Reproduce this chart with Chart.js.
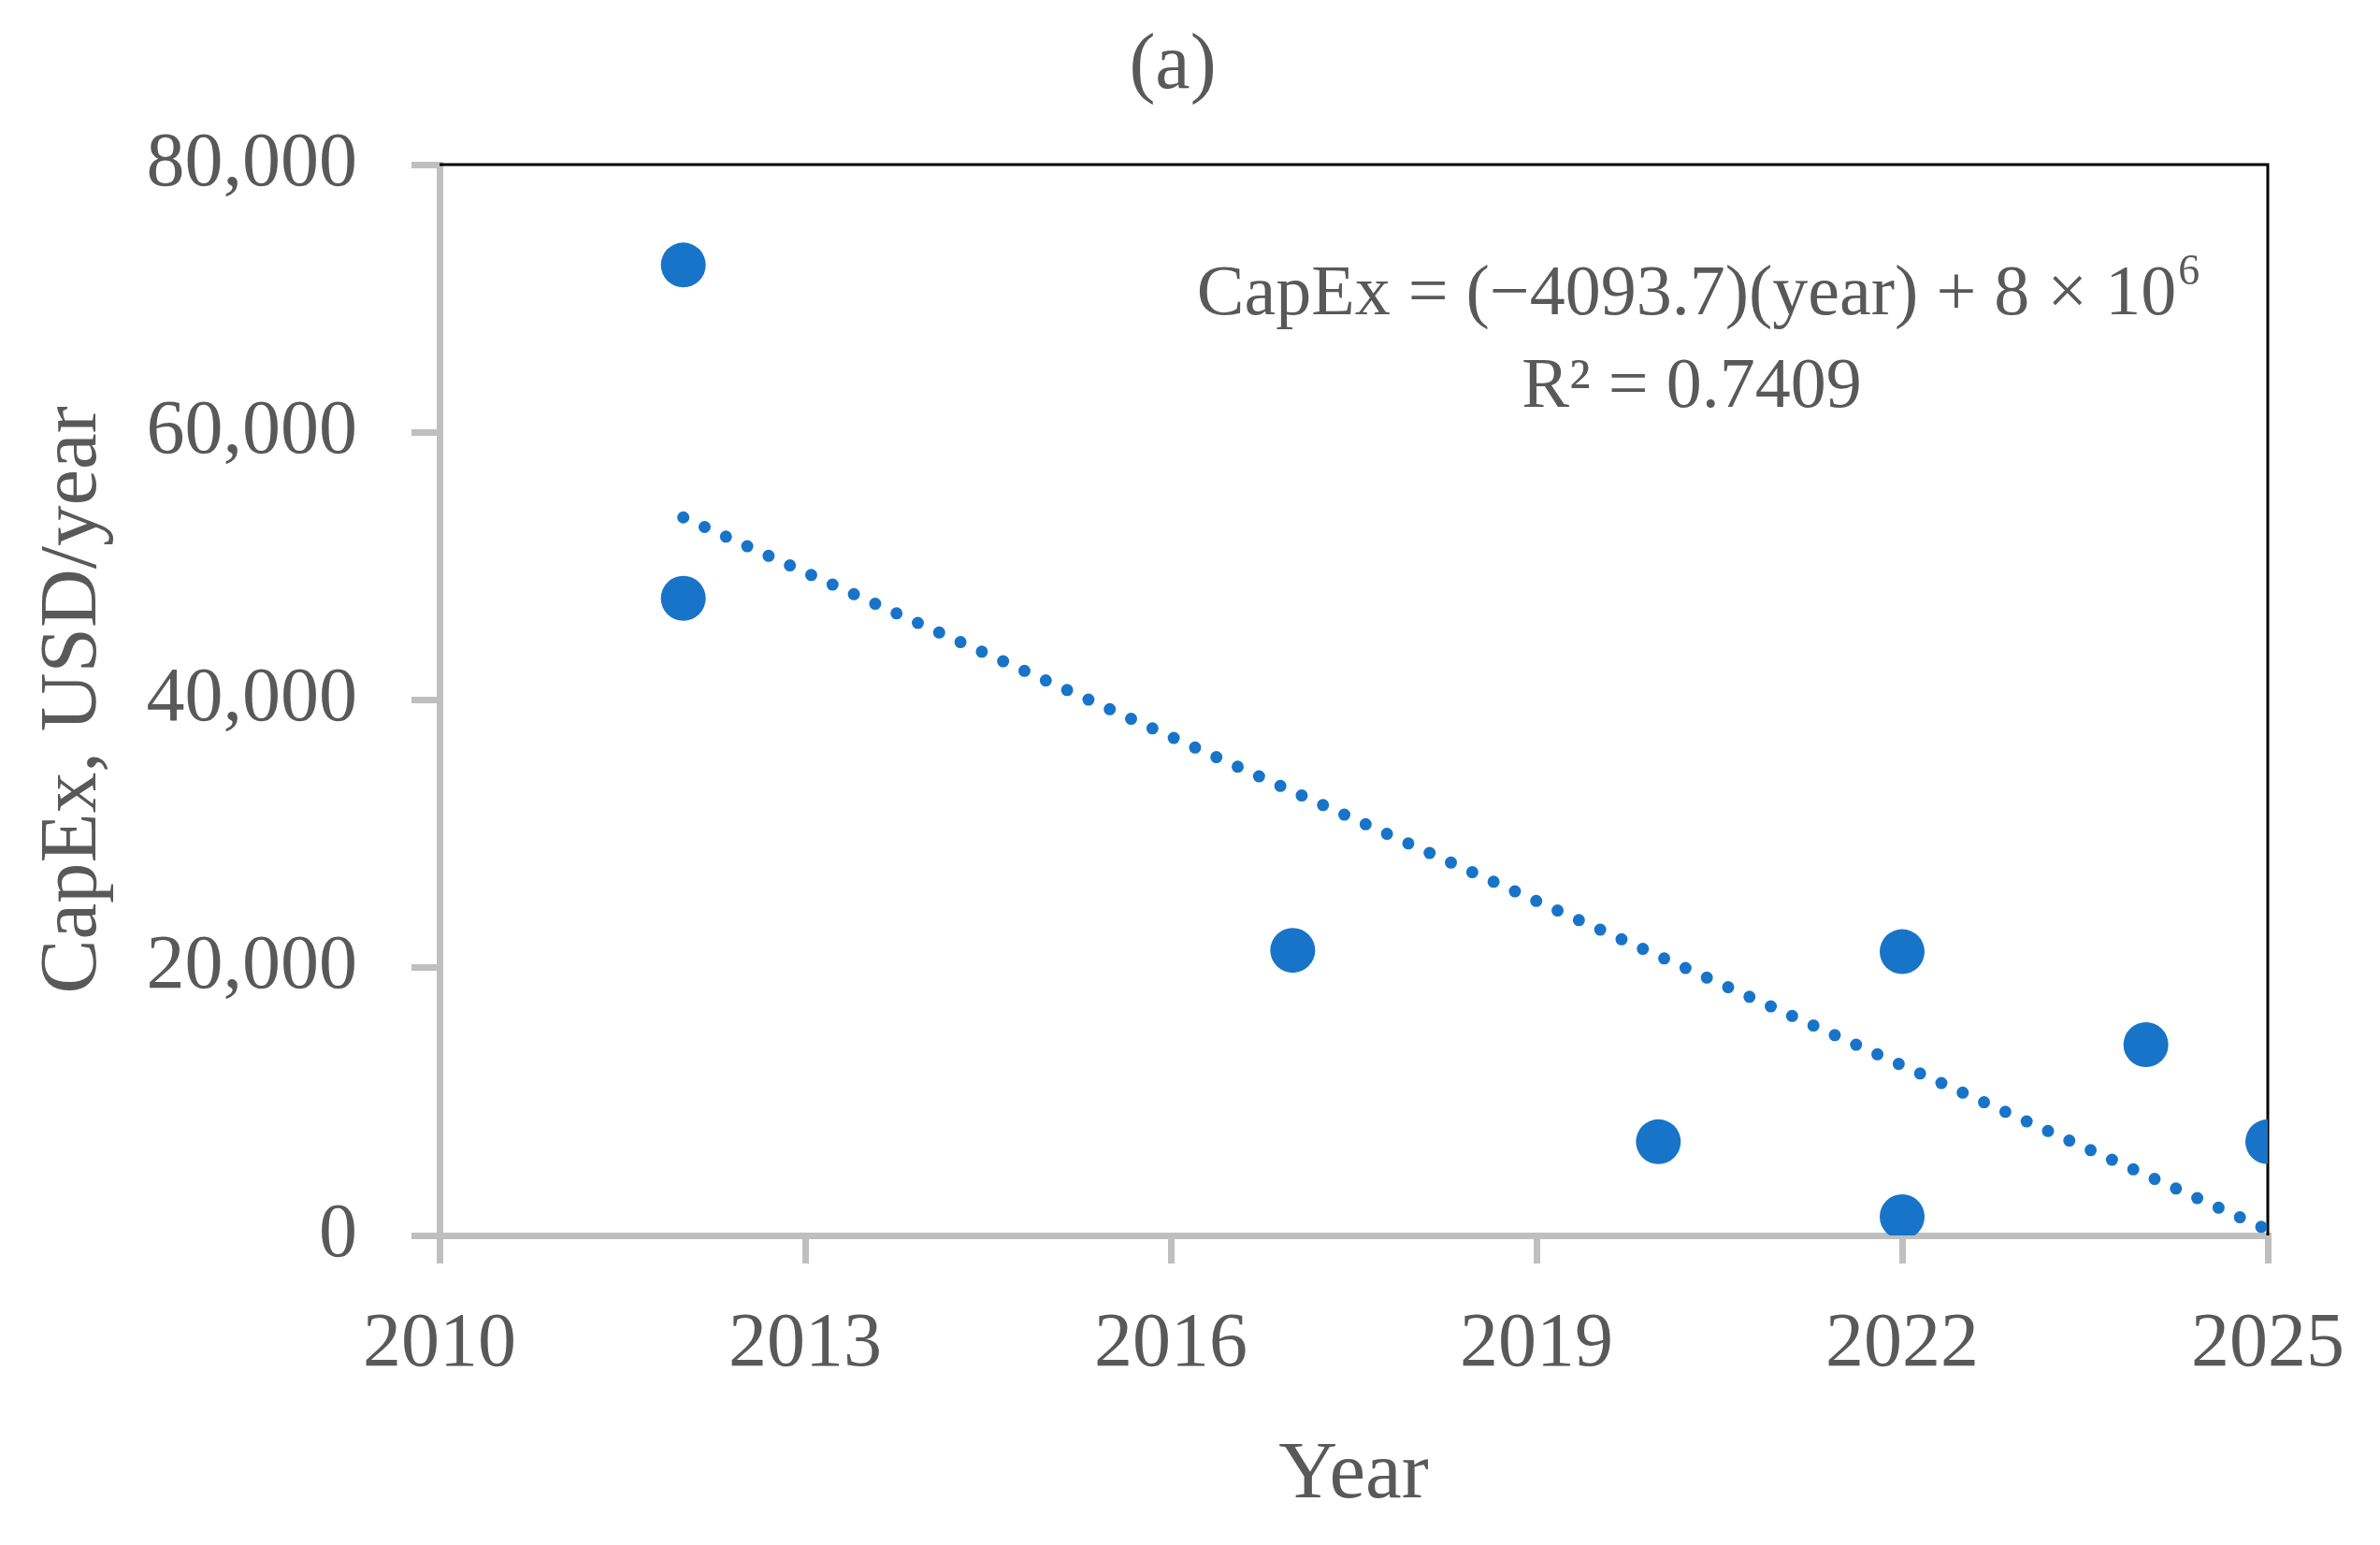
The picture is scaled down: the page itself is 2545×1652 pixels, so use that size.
<!DOCTYPE html>
<html>
<head>
<meta charset="utf-8">
<script src="https://cdn.jsdelivr.net/npm/chart.js@4.4.1/dist/chart.umd.min.js"></script>
<style>
  html, body { margin: 0; padding: 0; background: #fff; }
  #wrap { width: 2545px; height: 1652px; }
</style>
</head>
<body>
<div id="wrap"><canvas id="chart" width="2545" height="1652"></canvas></div>
<script>
// observed CapEx points (year, USD/year)
const years = [2012, 2012, 2017, 2020, 2022, 2022, 2024, 2025];
const capex = [72500, 47600, 21300, 7000, 21200, 1400, 14250, 7000];

// linear trendline ends as drawn
const trendYears = [2012, 2025];
const trendCapex = [53640, 420];

const xTicks = [2010, 2013, 2016, 2019, 2022, 2025];
const yTicks = [0, 20000, 40000, 60000, 80000];

const eqMain = 'CapEx = (\u22124093.7)(year) + 8 \u00d7 10';
const eqSup = '6';
const eqR2 = 'R\u00b2 = 0.7409';

const blue = '#1874C8';
const grey = '#BFBFBF';
const textGrey = '#595959';
const serif = '"Liberation Serif", "Times New Roman", serif';

const toXY = (xs, ys) => xs.map((x, i) => ({ x, y: ys[i] }));

const annotations = {
  id: 'annotations',
  beforeDatasetsDraw(chart) {
    const { ctx, chartArea } = chart;
    ctx.save();
    ctx.strokeStyle = '#000';
    ctx.lineWidth = 3;
    ctx.beginPath();
    ctx.moveTo(chartArea.left, chartArea.top);
    ctx.lineTo(chartArea.right, chartArea.top);
    ctx.lineTo(chartArea.right, chartArea.bottom);
    ctx.stroke();
    ctx.restore();
  },
  afterDraw(chart) {
    const { ctx } = chart;
    ctx.save();
    ctx.fillStyle = textGrey;
    ctx.textBaseline = 'alphabetic';

    ctx.font = '84px ' + serif;
    ctx.textAlign = 'center';
    ctx.fillText('(a)', 1254, 94);

    ctx.font = '76px ' + serif;
    const w1 = ctx.measureText(eqMain).width;
    ctx.font = '46px ' + serif;
    const w2 = ctx.measureText(eqSup).width;
    const cx = 1815;
    const x0 = cx - (w1 + w2) / 2;
    ctx.textAlign = 'left';
    ctx.font = '76px ' + serif;
    ctx.fillText(eqMain, x0, 336);
    ctx.font = '46px ' + serif;
    ctx.fillText(eqSup, x0 + w1 + 2, 304);

    ctx.font = '76px ' + serif;
    ctx.textAlign = 'center';
    ctx.fillText(eqR2, 1809, 435);
    ctx.restore();
  }
};

new Chart(document.getElementById('chart'), {
  type: 'scatter',
  data: {
    datasets: [
      {
        label: 'CapEx',
        data: toXY(years, capex),
        backgroundColor: blue,
        borderWidth: 0,
        pointRadius: 24,
        pointHoverRadius: 24,
        order: 1,
      },
      {
        type: 'line',
        label: 'Trend',
        data: toXY(trendYears, trendCapex),
        borderColor: blue,
        borderWidth: 13,
        borderDash: [0, 25],
        borderCapStyle: 'round',
        pointRadius: 0,
        fill: false,
        order: 2,
      },
    ],
  },
  options: {
    responsive: false,
    devicePixelRatio: 1,
    animation: false,
    layout: { padding: { top: 176, right: 114, left: 0, bottom: 0 } },
    plugins: {
      legend: { display: false },
      tooltip: { enabled: false },
    },
    scales: {
      x: {
        type: 'linear',
        min: 2010,
        max: 2025,
        afterFit: (scale) => { scale.height = 331; },
        afterBuildTicks: (scale) => { scale.ticks = xTicks.map((v) => ({ value: v })); },
        ticks: {
          font: { family: serif, size: 82 },
          color: textGrey,
          padding: 38,
          callback: (v) => String(v),
        },
        grid: { drawOnChartArea: false, drawTicks: true, tickLength: 30, color: grey, lineWidth: 7 },
        border: { color: grey, width: 7 },
        title: {
          display: true,
          text: 'Year',
          color: textGrey,
          font: { family: serif, size: 87 },
          padding: { top: 0, bottom: 22 },
        },
      },
      y: {
        min: 0,
        max: 80000,
        afterFit: (scale) => { scale.width = 470; },
        afterBuildTicks: (scale) => { scale.ticks = yTicks.map((v) => ({ value: v })); },
        ticks: {
          font: { family: serif, size: 82 },
          color: textGrey,
          padding: 58,
          callback: (v) => v.toLocaleString('en-US'),
        },
        grid: { drawOnChartArea: false, drawTicks: true, tickLength: 30, color: grey, lineWidth: 7 },
        border: { color: grey, width: 7 },
        title: {
          display: true,
          text: 'CapEx, USD/year',
          color: textGrey,
          font: { family: serif, size: 87 },
          padding: { top: 27, bottom: 0 },
        },
      },
    },
  },
  plugins: [annotations],
});
</script>
</body>
</html>
